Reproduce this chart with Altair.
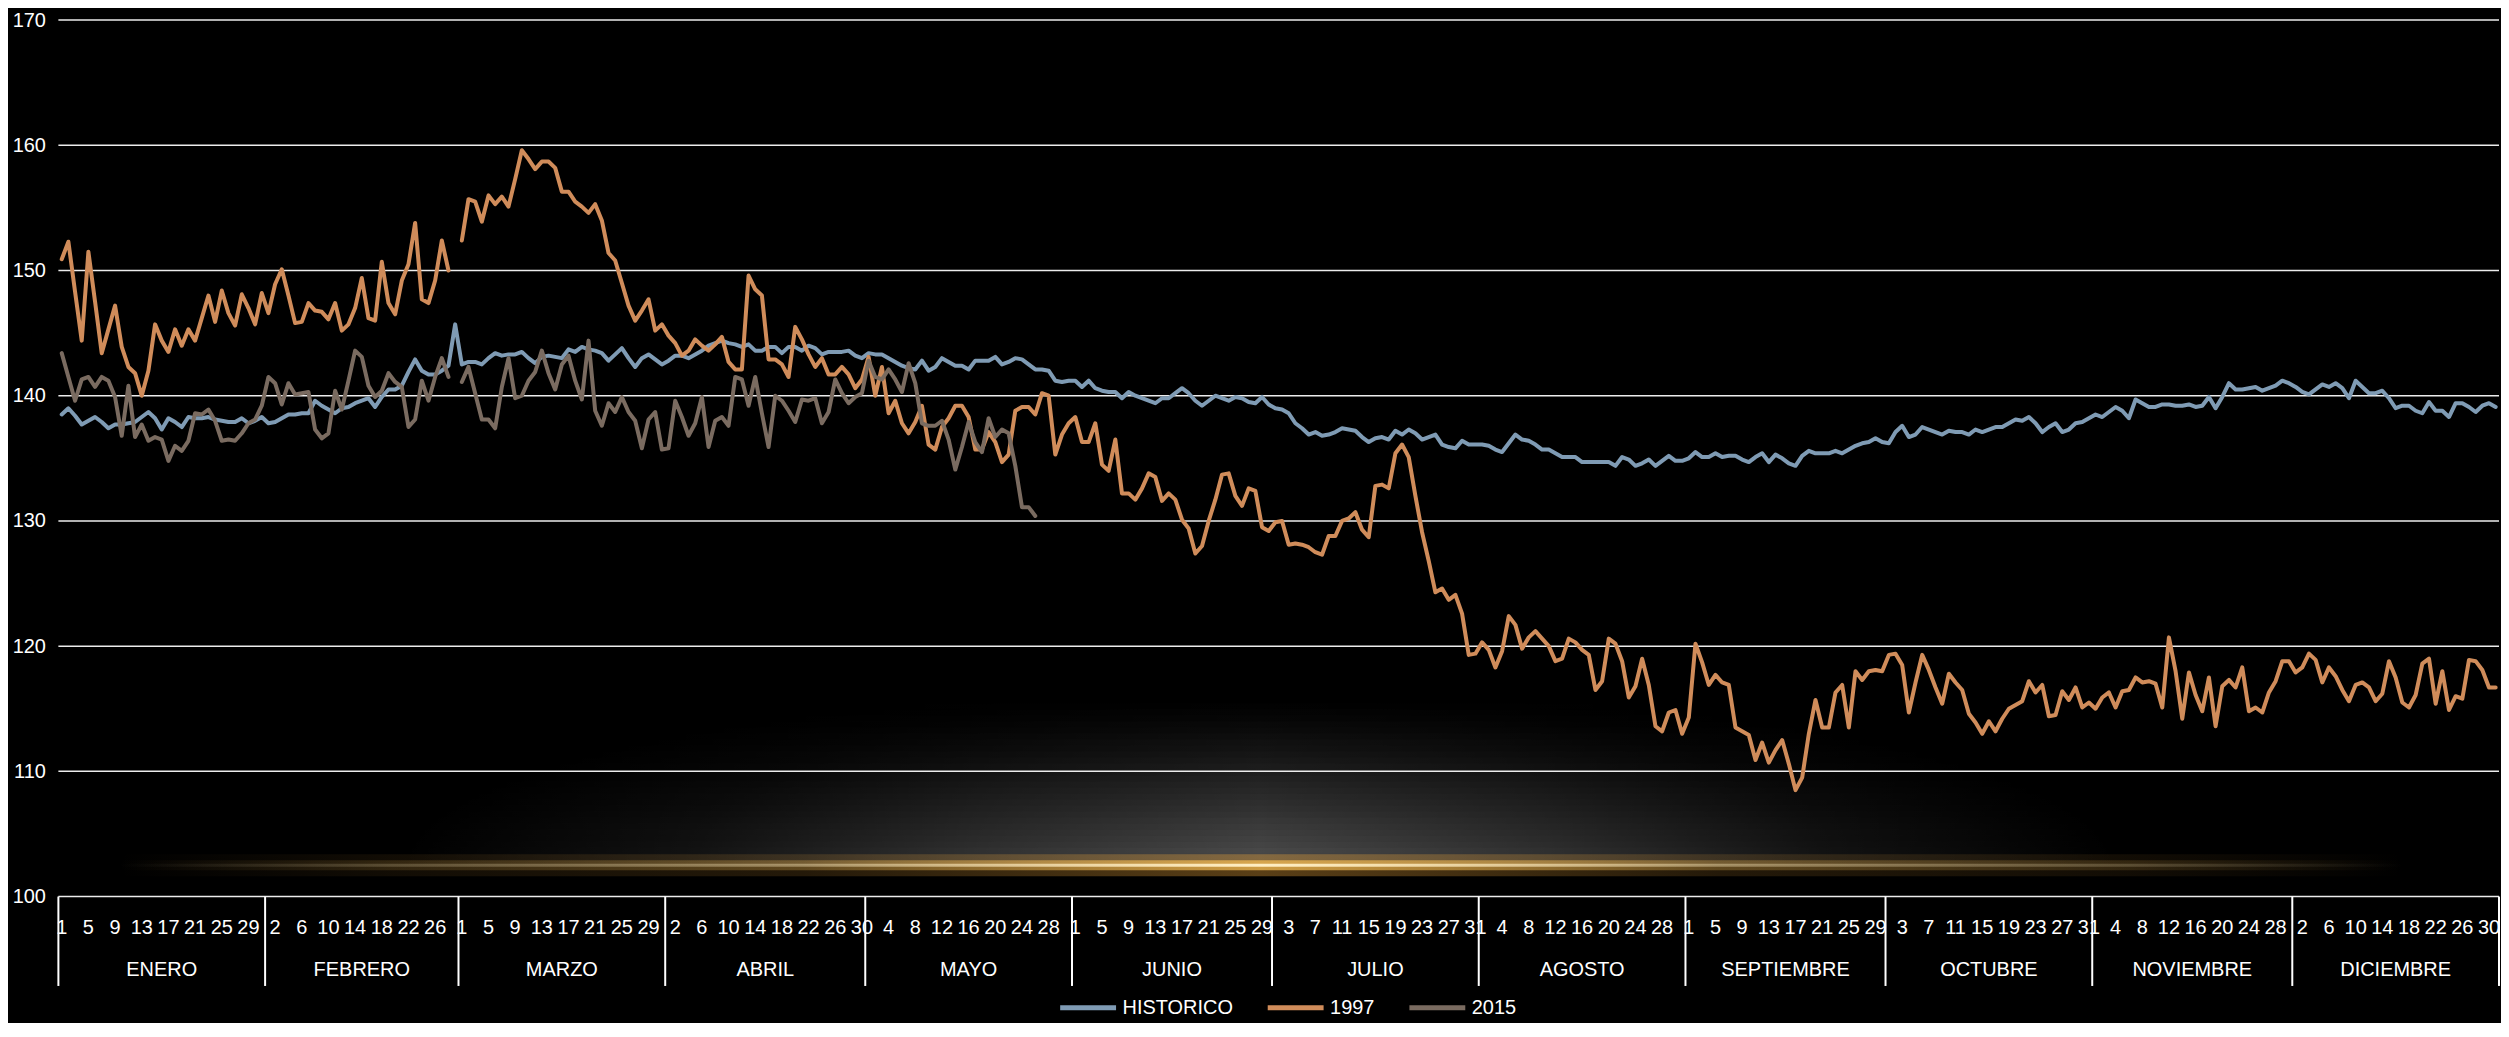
import altair as alt
import pandas as pd

FONT = "'Liberation Sans', Arial, sans-serif"
FS = 20

MESES = ["ENERO", "FEBRERO", "MARZO", "ABRIL", "MAYO", "JUNIO", "JULIO",
         "AGOSTO", "SEPTIEMBRE", "OCTUBRE", "NOVIEMBRE", "DICIEMBRE"]
DIAS_MES = [31, 29, 31, 30, 31, 30, 31, 31, 30, 31, 30, 31]
SERIES = ["HISTORICO", "1997", "2015"]
COLORES = ["#7f9bb4", "#d08c5a", "#7a6b60"]
Y_TICKS = [100, 110, 120, 130, 140, 150, 160, 170]

HISTORICO = [
    # enero
    138.5, 139.0, 138.4, 137.7, 138.0, 138.3, 137.9, 137.4, 137.7, 137.7,
    137.8, 137.9, 138.3, 138.7, 138.2, 137.3, 138.2, 137.9, 137.5, 138.3,
    138.2, 138.2, 138.3, 138.1, 138.0, 137.9, 137.9, 138.2, 137.8, 138.0, 138.3,
    # febrero
    137.8, 137.9, 138.2, 138.5, 138.5, 138.6, 138.6, 139.6, 139.2, 138.9,
    138.6, 139.0, 139.1, 139.4, 139.6, 139.8, 139.1, 139.9, 140.5, 140.5,
    140.8, 141.9, 142.9, 142.0, 141.7, 141.7, 142.0, 142.4, 145.7,
    # marzo
    142.5, 142.7, 142.7, 142.5, 143.0, 143.4, 143.2, 143.3, 143.3, 143.5,
    143.0, 142.6, 143.1, 143.2, 143.1, 143.0, 143.7, 143.5, 143.9, 143.7,
    143.6, 143.4, 142.8, 143.3, 143.8, 143.0, 142.3, 143.0, 143.3, 142.9, 142.5,
    # abril
    142.8, 143.2, 143.2, 143.0, 143.3, 143.6, 144.0, 144.2, 144.4, 144.2,
    144.1, 143.9, 144.1, 143.6, 143.6, 143.9, 143.9, 143.4, 143.9, 143.9,
    143.6, 144.0, 143.8, 143.3, 143.5, 143.5, 143.5, 143.6, 143.2, 143.0,
    # mayo
    143.4, 143.3, 143.3, 143.0, 142.7, 142.4, 142.2, 142.1, 142.8, 142.0,
    142.3, 143.0, 142.7, 142.4, 142.4, 142.1, 142.8, 142.8, 142.8, 143.1,
    142.5, 142.7, 143.0, 142.9, 142.5, 142.1, 142.1, 142.0, 141.2, 141.1, 141.2,
    # junio
    141.2, 140.7, 141.2, 140.6, 140.4, 140.3, 140.3, 139.8, 140.3, 140.0,
    139.8, 139.6, 139.4, 139.8, 139.8, 140.2, 140.6, 140.2, 139.6, 139.2,
    139.6, 140.0, 139.8, 139.6, 139.9, 139.8, 139.5, 139.4, 139.9, 139.3,
    # julio
    139.0, 138.9, 138.6, 137.8, 137.4, 136.9, 137.1, 136.8, 136.9, 137.1,
    137.4, 137.3, 137.2, 136.7, 136.3, 136.6, 136.7, 136.5, 137.2, 136.9,
    137.3, 137.0, 136.5, 136.7, 136.9, 136.1, 135.9, 135.8, 136.4, 136.1, 136.1,
    # agosto
    136.1, 136.0, 135.7, 135.5, 136.2, 136.9, 136.5, 136.4, 136.1, 135.7,
    135.7, 135.4, 135.1, 135.1, 135.1, 134.7, 134.7, 134.7, 134.7, 134.7,
    134.4, 135.1, 134.9, 134.4, 134.6, 134.9, 134.4, 134.8, 135.2, 134.8, 134.8,
    # septiembre
    135.0, 135.5, 135.1, 135.1, 135.4, 135.1, 135.2, 135.2, 134.9, 134.7,
    135.1, 135.4, 134.7, 135.3, 135.0, 134.6, 134.4, 135.2, 135.6, 135.4,
    135.4, 135.4, 135.6, 135.4, 135.7, 136.0, 136.2, 136.3, 136.6, 136.3,
    # octubre
    136.2, 137.1, 137.6, 136.7, 136.9, 137.5, 137.3, 137.1, 136.9, 137.2,
    137.1, 137.1, 136.9, 137.3, 137.1, 137.3, 137.5, 137.5, 137.8, 138.1,
    138.0, 138.3, 137.8, 137.1, 137.5, 137.8, 137.1, 137.3, 137.8, 137.9, 138.2,
    # noviembre
    138.5, 138.3, 138.7, 139.1, 138.8, 138.2, 139.7, 139.4, 139.1, 139.1,
    139.3, 139.3, 139.2, 139.2, 139.3, 139.1, 139.2, 139.9, 139.0, 139.9,
    141.0, 140.5, 140.5, 140.6, 140.7, 140.4, 140.6, 140.8, 141.2, 141.0,
    # diciembre
    140.7, 140.3, 140.1, 140.5, 140.9, 140.7, 141.0, 140.6, 139.8, 141.2,
    140.7, 140.2, 140.2, 140.4, 139.8, 139.0, 139.2, 139.2, 138.8, 138.6,
    139.5, 138.8, 138.8, 138.3, 139.4, 139.4, 139.1, 138.7, 139.2, 139.4, 139.1,
]

A1997 = [
    # enero
    150.9, 152.3, 148.3, 144.4, 151.5, 147.5, 143.4, 145.3, 147.2, 143.9,
    142.3, 141.8, 140.0, 142.0, 145.7, 144.4, 143.5, 145.3, 144.0, 145.3,
    144.4, 146.2, 148.0, 145.9, 148.4, 146.6, 145.6, 148.1, 147.0, 145.7, 148.2,
    # febrero
    146.6, 148.9, 150.1, 148.0, 145.8, 145.9, 147.4, 146.8, 146.7, 146.1,
    147.4, 145.2, 145.7, 147.0, 149.4, 146.2, 146.0, 150.7, 147.4, 146.5,
    149.2, 150.5, 153.8, 147.7, 147.4, 149.2, 152.4, 150.0, None,
    # marzo
    152.4, 155.7, 155.5, 153.9, 156.0, 155.3, 155.9, 155.1, 157.3, 159.6,
    158.9, 158.1, 158.7, 158.7, 158.2, 156.3, 156.3, 155.5, 155.1, 154.6,
    155.3, 154.0, 151.4, 150.8, 149.0, 147.2, 146.0, 146.8, 147.7, 145.2, 145.7,
    # abril
    144.8, 144.2, 143.2, 143.6, 144.5, 144.0, 143.6, 144.1, 144.7, 142.7,
    142.1, 142.1, 149.6, 148.5, 148.0, 142.9, 142.9, 142.5, 141.5, 145.5,
    144.5, 143.3, 142.3, 143.0, 141.7, 141.7, 142.3, 141.7, 140.6, 141.3,
    # mayo
    143.1, 140.0, 142.3, 138.6, 139.6, 137.8, 137.0, 137.9, 139.2, 136.1,
    135.7, 137.5, 138.2, 139.2, 139.2, 138.3, 135.7, 135.7, 137.1, 136.3,
    134.7, 135.3, 138.8, 139.1, 139.1, 138.5, 140.2, 140.0, 135.3, 136.9, 137.8,
    # junio
    138.3, 136.3, 136.3, 137.8, 134.5, 134.0, 136.5, 132.2, 132.2, 131.7,
    132.6, 133.8, 133.5, 131.6, 132.2, 131.7, 130.1, 129.4, 127.4, 128.0,
    130.0, 131.7, 133.7, 133.8, 132.0, 131.2, 132.6, 132.4, 129.5, 129.2,
    # julio
    129.9, 130.0, 128.1, 128.2, 128.1, 127.9, 127.5, 127.3, 128.8, 128.8,
    130.0, 130.2, 130.7, 129.3, 128.7, 132.8, 132.9, 132.6, 135.4, 136.1,
    135.1, 132.0, 129.1, 126.8, 124.3, 124.6, 123.7, 124.1, 122.6, 119.3, 119.4,
    # agosto
    120.3, 119.7, 118.3, 119.6, 122.4, 121.7, 119.8, 120.7, 121.2, 120.6,
    120.0, 118.8, 119.0, 120.6, 120.3, 119.7, 119.3, 116.5, 117.2, 120.6,
    120.2, 118.8, 115.9, 116.8, 119.0, 116.9, 113.6, 113.2, 114.7, 114.9, 113.0,
    # septiembre
    114.3, 120.2, 118.7, 116.9, 117.7, 117.1, 116.9, 113.5, 113.2, 112.9,
    110.9, 112.3, 110.7, 111.7, 112.5, 110.6, 108.5, 109.5, 113.0, 115.7,
    113.5, 113.5, 116.3, 116.9, 113.5, 118.0, 117.3, 118.0, 118.1, 118.0,
    # octubre
    119.3, 119.4, 118.5, 114.7, 117.1, 119.3, 118.1, 116.7, 115.4, 117.8,
    117.1, 116.5, 114.6, 113.9, 113.0, 114.0, 113.2, 114.2, 115.0, 115.3,
    115.6, 117.2, 116.3, 116.9, 114.4, 114.5, 116.4, 115.7, 116.7, 115.1, 115.5,
    # noviembre
    115.0, 115.9, 116.3, 115.1, 116.4, 116.5, 117.5, 117.1, 117.2, 117.0,
    115.1, 120.7, 118.0, 114.2, 117.9, 116.1, 114.8, 117.5, 113.6, 116.8,
    117.3, 116.7, 118.3, 114.8, 115.1, 114.7, 116.3, 117.2, 118.8, 118.8,
    # diciembre
    117.9, 118.3, 119.4, 118.9, 117.1, 118.3, 117.6, 116.5, 115.6, 116.9,
    117.1, 116.7, 115.6, 116.2, 118.8, 117.5, 115.5, 115.1, 116.1, 118.6,
    119.0, 115.4, 118.0, 114.9, 116.0, 115.8, 118.9, 118.8, 118.1, 116.7, 116.7,
]

A2015 = [
    # enero
    143.4, 141.5, 139.6, 141.3, 141.5, 140.7, 141.5, 141.2, 139.9, 136.8,
    140.8, 136.7, 137.7, 136.4, 136.7, 136.5, 134.8, 136.0, 135.6, 136.4,
    138.6, 138.5, 138.9, 138.0, 136.4, 136.5, 136.4, 137.0, 137.8, 138.1, 139.2,
    # febrero
    141.5, 141.0, 139.3, 141.0, 140.1, 140.2, 140.3, 137.3, 136.6, 137.0,
    140.4, 138.9, 141.2, 143.6, 143.1, 140.8, 139.9, 140.4, 141.8, 141.1,
    140.7, 137.5, 138.1, 141.2, 139.6, 141.5, 143.0, 141.5, None,
    # marzo
    141.1, 142.3, 140.2, 138.1, 138.1, 137.4, 140.7, 143.0, 139.8, 140.0,
    141.2, 141.9, 143.6, 141.8, 140.5, 142.5, 143.2, 141.2, 139.7, 144.4,
    138.8, 137.6, 139.4, 138.7, 139.9, 138.7, 138.0, 135.8, 138.1, 138.7, 135.7,
    # abril
    135.8, 139.6, 138.3, 136.8, 137.8, 139.9, 135.9, 138.0, 138.3, 137.6,
    141.5, 141.3, 139.2, 141.5, 138.6, 135.9, 140.0, 139.6, 138.8, 137.9,
    139.7, 139.6, 139.8, 137.8, 138.7, 141.3, 140.2, 139.4, 139.9, 140.2,
    # mayo
    142.8, 141.5, 141.3, 142.1, 141.3, 140.3, 142.6, 141.0, 137.8, 137.6,
    137.6, 138.0, 136.5, 134.1, 135.9, 137.9, 136.3, 135.5, 138.2, 136.7,
    137.3, 137.0, 134.4, 131.1, 131.1, 130.4,
]

# ---- tables built from the arrays ----
rows = []
for name, vals in zip(SERIES, [HISTORICO, A1997, A2015]):
    seg = 0
    for i, v in enumerate(vals):
        if v is None:
            seg += 1
            continue
        rows.append({"d": i + 1, "v": v, "serie": name, "seg": f"{name}-{seg}"})
df = pd.DataFrame(rows)

day_rows, month_rows, bounds = [], [], []
start = 1
for mes, n in zip(MESES, DIAS_MES):
    bounds.append(start - 0.5)
    month_rows.append({"mid": start + (n - 1) / 2, "mes": mes})
    for k in range(n):
        g = start + k
        if (g - 1) % 4 == 0:
            day_rows.append({"d": g, "lab": str(k + 1)})
    start += n
bounds.append(start - 0.5)
df_days = pd.DataFrame(day_rows)
df_months = pd.DataFrame(month_rows)
df_bounds = pd.DataFrame({"b": bounds})
df_grid = pd.DataFrame({"g": Y_TICKS})

TOP = 11
W, H = 2446, 878.4
xscale = alt.Scale(domain=[0.5, 366.5], nice=False, zero=False)
yscale = alt.Scale(domain=[100, 170], nice=False, zero=False)
yaxis = alt.Axis(values=Y_TICKS, grid=False, domain=False, ticks=False, title=None,
                 labelColor="white", labelFontSize=FS, labelFont=FONT, labelPadding=13)

one = alt.Data(values=[{"k": 0}])


def rgba(r, g, b, a):
    return f"rgba({r},{g},{b},{a:.3f})"


def py(page_y):
    """page pixel row -> plot pixel row"""
    return page_y - 8 - TOP


layers = []

# ---- decorative glow (halo + golden line) ----
LINE_Y = py(866)
CX = 1203.5
for i in range(27):
    h = (i + 0.5) * 6
    a = 80 / 255 * max(0.0, 1 - h / 165) ** 1.15
    hw = 860 * max(0.0, 1 - (h / 180) ** 2) ** 0.5
    if hw < 20 or a <= 0.005:
        continue
    grad = alt.LinearGradient(
        gradient="linear", x1=0, x2=1, y1=0, y2=0,
        stops=[
            alt.GradientStop(color=rgba(255, 255, 255, 0), offset=0),
            alt.GradientStop(color=rgba(255, 255, 255, a * 0.25), offset=0.17),
            alt.GradientStop(color=rgba(255, 255, 255, a * 0.65), offset=0.33),
            alt.GradientStop(color=rgba(255, 255, 255, a), offset=0.5),
            alt.GradientStop(color=rgba(255, 255, 255, a * 0.65), offset=0.67),
            alt.GradientStop(color=rgba(255, 255, 255, a * 0.25), offset=0.83),
            alt.GradientStop(color=rgba(255, 255, 255, 0), offset=1),
        ])
    layers.append(
        alt.Chart(one).mark_rect(color=grad).encode(
            x=alt.value(CX - hw), x2=alt.value(CX + hw),
            y=alt.value(LINE_Y - (i + 1) * 6), y2=alt.value(LINE_Y - i * 6)))

for half, peak, mid, colp in [(11, 0.45, 0.18, (200, 140, 50)),
                              (5, 0.8, 0.3, (235, 180, 80)),
                              (1.6, 1.0, 0.4, (255, 238, 195))]:
    grad = alt.LinearGradient(
        gradient="linear", x1=0, x2=1, y1=0, y2=0,
        stops=[
            alt.GradientStop(color=rgba(*colp, 0), offset=0),
            alt.GradientStop(color=rgba(*colp, mid * 0.5), offset=0.12),
            alt.GradientStop(color=rgba(*colp, mid), offset=0.3),
            alt.GradientStop(color=rgba(*colp, peak), offset=0.5),
            alt.GradientStop(color=rgba(*colp, mid), offset=0.7),
            alt.GradientStop(color=rgba(*colp, mid * 0.5), offset=0.88),
            alt.GradientStop(color=rgba(*colp, 0), offset=1),
        ])
    layers.append(
        alt.Chart(one).mark_rect(color=grad).encode(
            x=alt.value(60), x2=alt.value(2350),
            y=alt.value(LINE_Y - half), y2=alt.value(LINE_Y + half)))

# ---- grid (also carries the y axis labels) ----
grid = alt.Chart(df_grid).mark_rule(color="#ececec", strokeWidth=1.5).encode(
    y=alt.Y("g:Q", scale=yscale, axis=yaxis))
layers.append(grid)

# ---- month separators ----
seps = alt.Chart(df_bounds).mark_rule(color="white", strokeWidth=2).encode(
    x=alt.X("b:Q", scale=xscale, axis=None),
    y=alt.value(H), y2=alt.value(py(987)))
layers.append(seps)

# ---- lines: one layer per series so 2015 is drawn on top ----
legend = alt.Legend(
    orient="none", legendX=1001.5, legendY=py(1006) - 28, direction="horizontal",
    title=None, symbolType="stroke", symbolSize=3136, symbolStrokeWidth=5,
    labelFontSize=FS, labelColor="white", labelFont=FONT,
    columnPadding=24, labelOffset=4, padding=0)
color = alt.Color("serie:N", scale=alt.Scale(domain=SERIES, range=COLORES), legend=legend)
for name in SERIES:
    layers.append(
        alt.Chart(df[df["serie"] == name]).mark_line(
            strokeWidth=4, strokeJoin="round", strokeCap="round").encode(
            x=alt.X("d:Q", scale=xscale, axis=None),
            y=alt.Y("v:Q", scale=yscale, axis=yaxis),
            color=color,
            detail="seg:N",
        ))

# ---- day and month labels ----
days = alt.Chart(df_days).mark_text(
    color="white", fontSize=FS, font=FONT, align="center", baseline="middle").encode(
    x=alt.X("d:Q", scale=xscale, axis=None), y=alt.value(py(929)), text="lab:N")
months = alt.Chart(df_months).mark_text(
    color="white", fontSize=FS, font=FONT, align="center", baseline="middle").encode(
    x=alt.X("mid:Q", scale=xscale, axis=None), y=alt.value(py(971)), text="mes:N")
layers += [days, months]

chart = alt.layer(*layers).properties(
    width=W, height=H,
    padding={"left": 50.5, "top": TOP, "right": 2, "bottom": 1015 - TOP - H},
    autosize=alt.AutoSizeParams(type="none"),
).configure(background="#000000").configure_view(stroke=None)

chart.save("out.html", embed_options={"renderer": "svg", "actions": False})
